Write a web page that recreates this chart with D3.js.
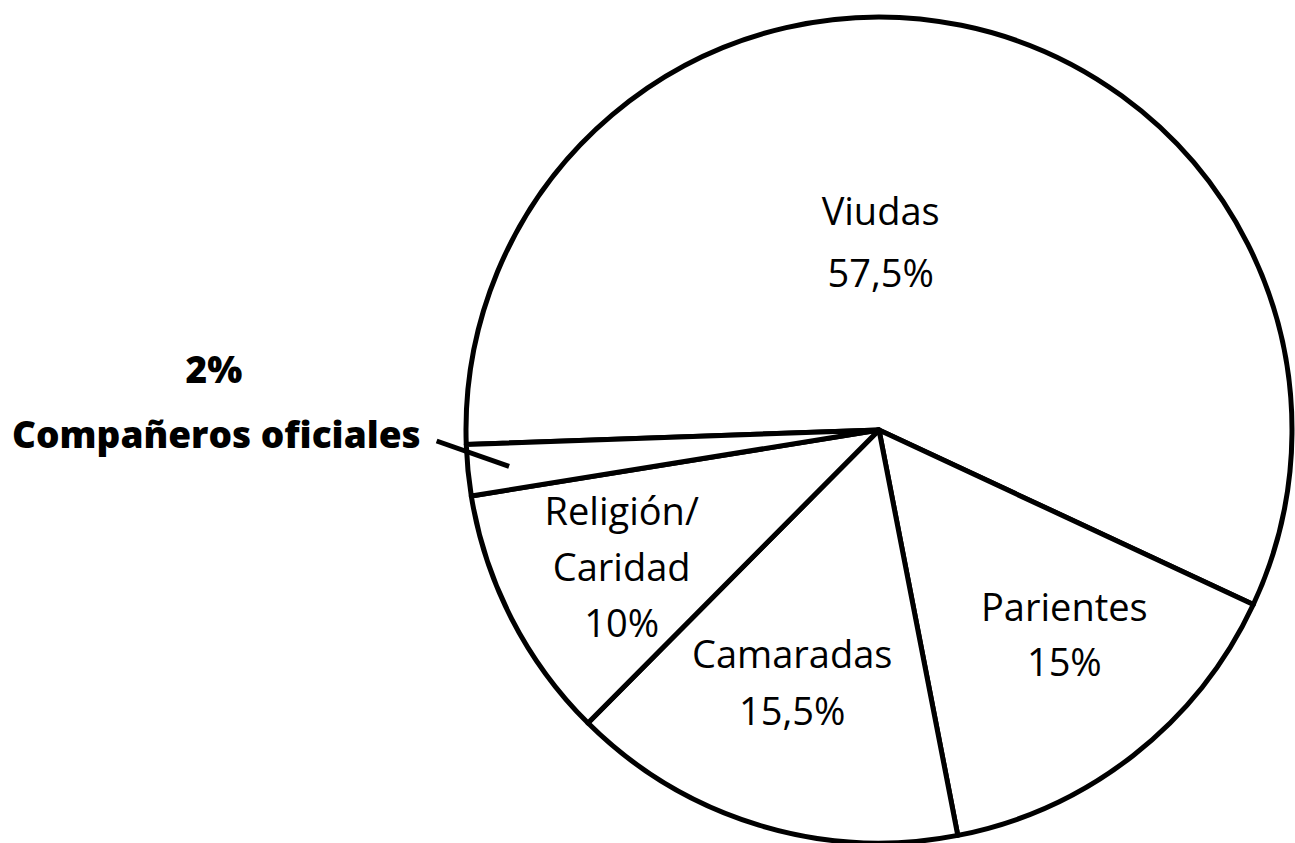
<!DOCTYPE html>
<html>
<head>
<meta charset="utf-8">
<script src="https://cdn.jsdelivr.net/npm/d3@7"></script>
<style>
  html, body { margin: 0; padding: 0; background: #fff; }
  svg { display: block; }
  text { font-family: "Open Sans", "DejaVu Sans", sans-serif; fill: #000; }
</style>
</head>
<body>
<div id="chart"></div>
<script>
const width = 1295;
const height = 843;

// slices, clockwise from the 9 o'clock position
const categories = ["Viudas", "Parientes", "Camaradas", "Religión/Caridad", "Compañeros oficiales"];
const values = [57.5, 15, 15.5, 10, 2];
const valueLabels = ["57,5%", "15%", "15,5%", "10%", "2%"];
const labelLines = [["Viudas"], ["Parientes"], ["Camaradas"], ["Religión/", "Caridad"], ["Compañeros oficiales"]];

const cx = 879, cy = 430, radius = 413;
const startAngle = 268 * Math.PI / 180;

// label block: distance from centre, angle nudge in degrees, line step
const labelLayout = [
  { r: 187, da: -11, step: 62 },
  { r: 277, da: -4, step: 55 },
  { r: 268, da: 2, step: 57 },
  { r: 292, da: -1, step: 56 }
];

const svg = d3.select("#chart")
  .append("svg")
  .attr("width", width)
  .attr("height", height);

const pie = d3.pie()
  .value(d => d)
  .sort(null)
  .startAngle(startAngle)
  .endAngle(startAngle + 2 * Math.PI);

const arcs = pie(values);

const arc = d3.arc()
  .innerRadius(0)
  .outerRadius(radius);

const g = svg.append("g")
  .attr("transform", `translate(${cx},${cy})`);

g.selectAll("path")
  .data(arcs)
  .enter()
  .append("path")
  .attr("d", arc)
  .style("fill", "#fff")
  .style("stroke", "#000")
  .style("stroke-width", 5)
  .style("stroke-linejoin", "round");

// labels inside the big slices
labelLayout.forEach((pos, i) => {
  const d = arcs[i];
  const mid = (d.startAngle + d.endAngle) / 2 + pos.da * Math.PI / 180;
  const x = Math.sin(mid) * pos.r;
  const y = -Math.cos(mid) * pos.r;
  const lines = labelLines[i].concat([valueLabels[i]]);
  lines.forEach((line, k) => {
    g.append("text")
      .attr("x", x)
      .attr("y", y + (k - (lines.length - 1) / 2) * pos.step + 13)
      .attr("text-anchor", "middle")
      .style("font-size", "38px")
      .text(line);
  });
});

// small slice: bold label to the left with a callout line
const small = arcs.length - 1;

svg.append("text")
  .attr("x", 214)
  .attr("y", 383)
  .attr("text-anchor", "middle")
  .style("font-size", "37px")
  .style("font-weight", 800)
  .text(valueLabels[small]);

const nameText = svg.append("text")
  .attr("x", 12)
  .attr("y", 448)
  .style("font-size", "37px")
  .style("font-weight", 800)
  .text(labelLines[small][0]);

const textEnd = 12 + nameText.node().getComputedTextLength();

const tip = d3.arc()
  .innerRadius(radius * 0.9)
  .outerRadius(radius * 0.9)
  .centroid(arcs[small]);

svg.append("line")
  .attr("x1", textEnd + 16)
  .attr("y1", 441)
  .attr("x2", cx + tip[0])
  .attr("y2", cy + tip[1])
  .style("stroke", "#000")
  .style("stroke-width", 5);
</script>
</body>
</html>
